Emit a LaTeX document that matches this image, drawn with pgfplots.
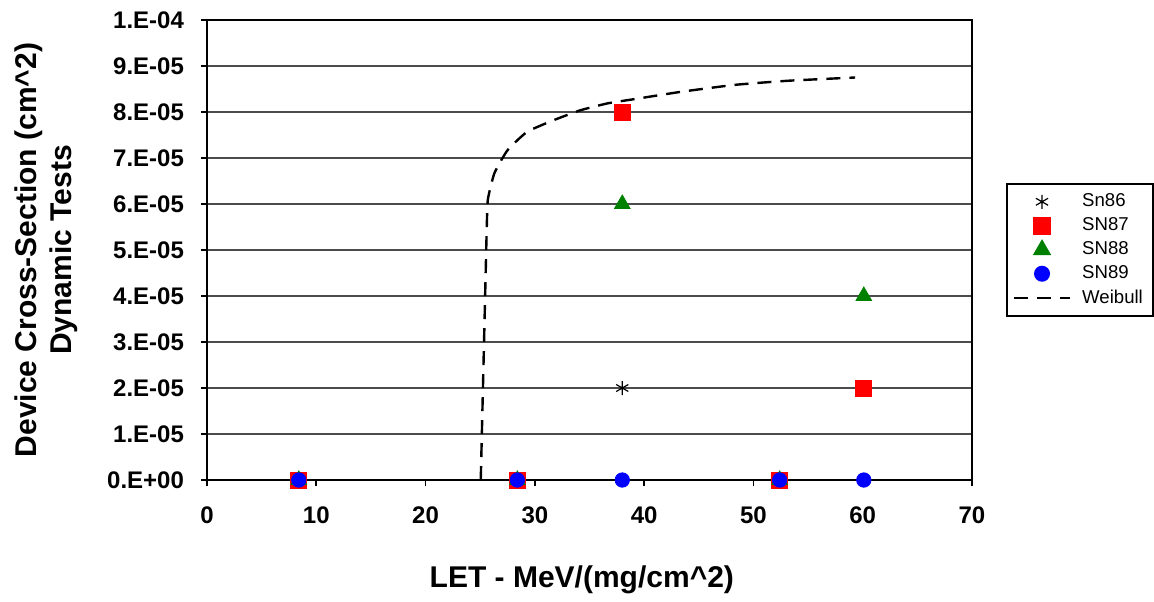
\documentclass[border=0pt]{standalone}
\usepackage{pgfplots}
\pgfplotsset{compat=1.18}
\usepackage{fontspec}
\setmainfont{Liberation Sans}
\begin{document}
\begin{tikzpicture}
\begin{axis}[
  scale only axis,
  width=382.5pt, height=230pt,
  xmin=0, xmax=70, ymin=0, ymax=1e-4,
  xtick={0,10,...,70},
  ytick={0,1e-5,2e-5,3e-5,4e-5,5e-5,6e-5,7e-5,8e-5,9e-5,1e-4},
  yticklabels={0.E+00,1.E-05,2.E-05,3.E-05,4.E-05,5.E-05,6.E-05,7.E-05,8.E-05,9.E-05,1.E-04},
  scaled y ticks=false,
  /pgf/number format/assume math mode=true,
  tick align=outside,
  xtick pos=bottom, ytick pos=left,
  major tick length=3pt,
  tick style={black, line width=0.8pt},
  axis line style={black, line width=1pt},
  ymajorgrids,
  major grid style={line width=0.7pt, color=black!70},
  ticklabel style={font=\bfseries\fontsize{12}{14}\selectfont},
  xticklabel style={yshift=-7pt},
  yticklabel style={xshift=-5pt},
  xlabel={LET - MeV/(mg/cm\^{}2)},
  xlabel style={font=\bfseries\fontsize{15}{17}\selectfont, at={(axis description cs:0.49,0)}, anchor=center, yshift=-50pt},
  ylabel={Device Cross-Section (cm\^{}2)\\Dynamic Tests},
  ylabel style={font=\bfseries\fontsize{15}{17.5}\selectfont, align=center, at={(axis description cs:-0.210,0.5)}, anchor=center},
  legend style={at={(1.0445,0.6457)}, anchor=north west, draw=black, line width=0.8pt,
    font=\fontsize{9.3}{10.5}\selectfont, row sep=0pt, inner xsep=3pt, inner ysep=3pt,
    cells={anchor=west}, /tikz/every odd column/.append style={column sep=3.5pt}},
  legend image code/.code={\draw[mark repeat=2,mark phase=2,#1] plot coordinates {(0pt,0pt) (14pt,0pt) (28pt,0pt)};},
  clip=false,
]
\addplot[only marks, mark=asterisk, mark size=3.5pt, black, mark options={line width=0.6pt}] coordinates {
 (8.4,0) (28.4,0) (38,2e-5) (52.4,0) (60.1,0)};
\addlegendentry{Sn86}
\addplot[only marks, mark=square*, mark size=4pt, red, mark options={draw=red, fill=red}] coordinates {
 (8.4,0) (28.4,0) (38,8e-5) (52.4,0) (60.1,2e-5)};
\addlegendentry{SN87}
\addplot[only marks, mark=triangle*, mark size=4.5pt, green!50!black, mark options={fill=green!50!black}] coordinates {
 (8.4,0) (28.4,0) (38,6e-5) (52.4,0) (60.1,4e-5)};
\addlegendentry{SN88}
\addplot[only marks, mark=*, mark size=3.6pt, blue, mark options={fill=blue}] coordinates {
 (8.4,0) (28.4,0) (38,0) (52.4,0) (60.1,0)};
\addlegendentry{SN89}
\addplot[black, line width=1.2pt, dash pattern=on 7pt off 4.5pt, smooth, tension=0.3] coordinates {
 (25.05,0) (25.2,1.5e-5) (25.35,3e-5) (25.5,4.5e-5) (25.6,5.5e-5) (25.7,6.1e-5)
 (26.3,6.67e-5) (27.5,7.17e-5) (29.3,7.57e-5) (31.8,7.83e-5) (34.2,8.04e-5)
 (36.7,8.19e-5) (39.1,8.28e-5) (43.4,8.44e-5) (48.3,8.59e-5) (53.2,8.68e-5) (59.3,8.75e-5)};
\addlegendentry{Weibull}
\end{axis}
\path ([xshift=-103.5pt,yshift=-60.5pt]current axis.south west) rectangle ([xshift=91pt,yshift=10pt]current axis.north east);
\end{tikzpicture}
\end{document}
